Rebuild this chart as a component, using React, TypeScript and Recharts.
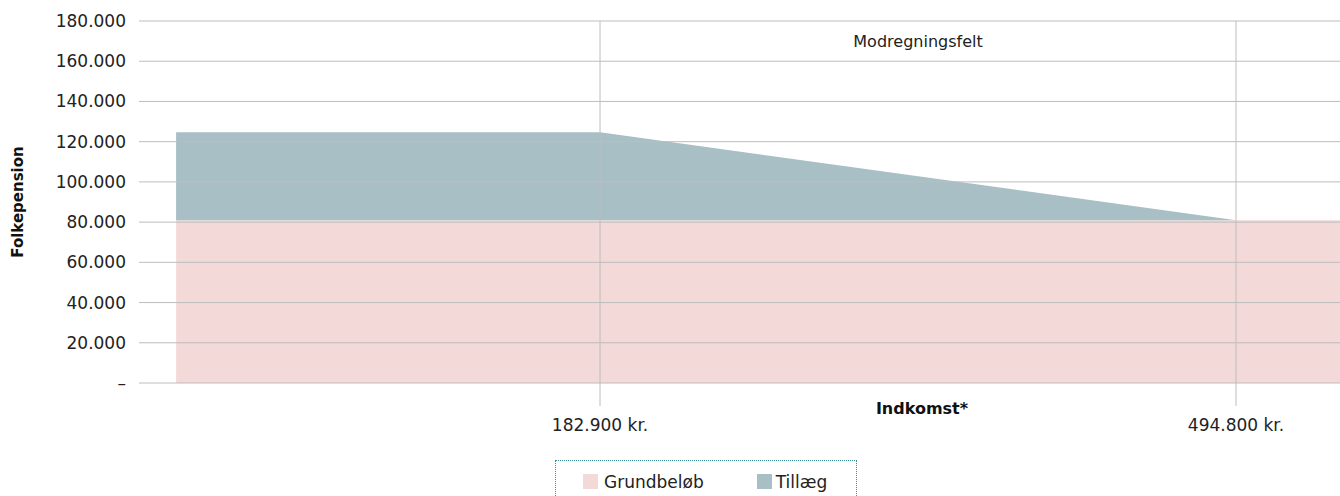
import React from 'react';
import {
  AreaChart,
  Area,
  XAxis,
  YAxis,
  ReferenceLine,
  ReferenceArea,
  Label,
} from 'recharts';

if (typeof document !== 'undefined') {
  document.body.style.margin = '0';
}

// income points (kr.) along the x axis
const incomes = [-25000, 182900, 494800, 545800];
// basic amount
const grundbelob = [80900, 80900, 80900, 80900];
// supplement, reduced between the two thresholds
const tillaeg = [43800, 43800, 0, 0];

const xTicks = [182900, 494800];
const yTicks = [0, 20000, 40000, 60000, 80000, 100000, 120000, 140000, 160000, 180000];

const data = incomes.map((income, i) => ({
  income,
  grundbelob: grundbelob[i],
  tillaeg: tillaeg[i],
}));

const FONT = '"DejaVu Sans", sans-serif';
const PINK = '#f3d9d7';
const TEAL = '#a7bfc5';
const GRID = '#bdbdbd';

const fmt = (v: number) => String(v).replace(/\B(?=(\d{3})+(?!\d))/g, '.');

const App = () => {
  return (
    <div style={{ position: 'relative', width: 1340, height: 496, fontFamily: FONT }}>
      <AreaChart
        width={1340}
        height={496}
        data={data}
        margin={{ top: 21, right: 0, left: 0, bottom: 0 }}
      >
        <XAxis
          type="number"
          dataKey="income"
          domain={[-43200, 545800]}
          ticks={xTicks}
          tickFormatter={(v: number) => `${fmt(v)} kr.`}
          height={113}
          tickSize={23}
          tickMargin={13}
          axisLine={{ stroke: GRID }}
          tickLine={{ stroke: GRID }}
          tick={{ fill: '#222', fontSize: 17, fontFamily: FONT }}
        >
          <Label
            content={({ viewBox }: any) => (
              <text
                x={922}
                y={viewBox.y + 31}
                textAnchor="middle"
                fontSize={16}
                fontWeight={700}
                fill="#111"
                fontFamily={FONT}
              >
                Indkomst*
              </text>
            )}
          />
        </XAxis>
        <YAxis
          type="number"
          domain={[0, 180000]}
          ticks={yTicks}
          tickFormatter={(v: number) => (v === 0 ? '–' : fmt(v))}
          width={139}
          tickMargin={7}
          axisLine={false}
          tickLine={false}
          tick={{ fill: '#222', fontSize: 17, fontFamily: FONT }}
        >
          <Label
            content={({ viewBox }: any) => (
              <text
                x={0}
                y={0}
                transform={`translate(23, ${viewBox.y + viewBox.height / 2}) rotate(-90)`}
                textAnchor="middle"
                fontSize={15}
                fontWeight={700}
                fill="#111"
                fontFamily={FONT}
              >
                Folkepension
              </text>
            )}
          />
        </YAxis>
        <Area
          type="linear"
          dataKey="grundbelob"
          name="Grundbeløb"
          stackId="a"
          fill={PINK}
          fillOpacity={1}
          stroke="none"
          isAnimationActive={false}
        />
        <Area
          type="linear"
          dataKey="tillaeg"
          name="Tillæg"
          stackId="a"
          fill={TEAL}
          fillOpacity={1}
          stroke="none"
          isAnimationActive={false}
        />
        {yTicks.slice(1).map((t) => (
          <ReferenceLine key={t} y={t} stroke={GRID} strokeWidth={1} />
        ))}
        {xTicks.map((t) => (
          <ReferenceLine key={t} x={t} stroke={GRID} strokeWidth={1} />
        ))}
        <ReferenceArea x1={xTicks[0]} x2={xTicks[1]} y1={160000} y2={180000} fill="none" stroke="none">
          <Label
            value="Modregningsfelt"
            position="center"
            fill="#222"
            fontSize={16}
            fontFamily={FONT}
          />
        </ReferenceArea>
      </AreaChart>
      <div
        style={{
          position: 'absolute',
          left: 555,
          top: 460,
          width: 302,
          height: 40,
          border: '1px dotted #3a8f9a',
          boxSizing: 'border-box',
          display: 'flex',
          alignItems: 'flex-start',
          paddingTop: 11,
          paddingLeft: 27,
          fontSize: 17,
          color: '#222',
        }}
      >
        <span style={{ display: 'inline-block', width: 15, height: 15, background: PINK, marginTop: 2, marginRight: 6 }} />
        <span style={{ lineHeight: '20px' }}>Grundbeløb</span>
        <span style={{ display: 'inline-block', width: 15, height: 15, background: TEAL, marginTop: 2, marginLeft: 53, marginRight: 4 }} />
        <span style={{ lineHeight: '20px' }}>Tillæg</span>
      </div>
    </div>
  );
};

export default App;
